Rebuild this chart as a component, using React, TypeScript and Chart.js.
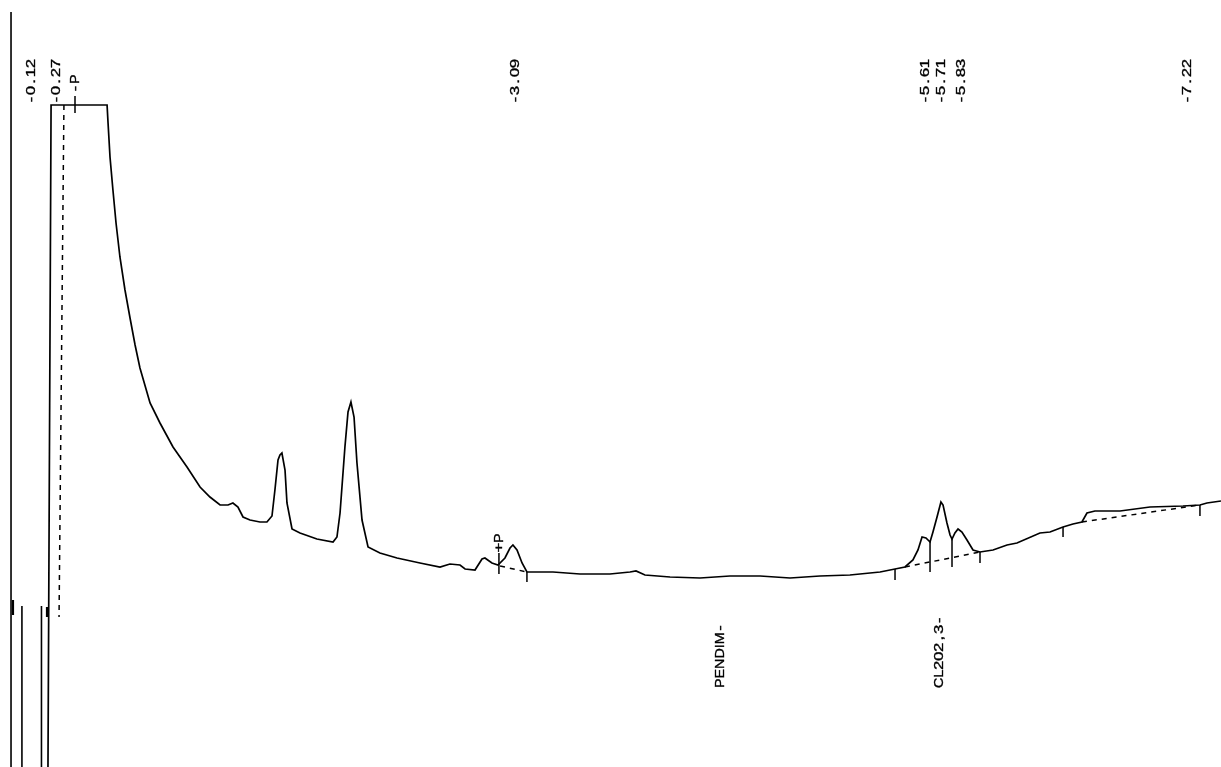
import React, { useEffect, useRef } from "react";
import { Chart, registerables } from "chart.js";

Chart.register(...registerables);

// Detector trace: retention time (min) and signal (arbitrary units)
const traceTime = [
  0.221, 0.24, 0.584, 0.59, 0.602, 0.62, 0.639, 0.663, 0.694, 0.725, 0.756, 0.786, 0.848, 0.909, 0.989,
  1.075, 1.155, 1.216, 1.278, 1.327, 1.357, 1.388, 1.419, 1.462, 1.523, 1.566, 1.597, 1.615, 1.634, 1.646,
  1.658, 1.677, 1.689, 1.72, 1.769, 1.873, 1.972, 1.996, 2.015, 2.045, 2.064, 2.082, 2.101, 2.119, 2.15,
  2.187, 2.26, 2.365, 2.506, 2.629, 2.69, 2.752, 2.783, 2.844, 2.887, 2.905, 2.948, 2.985, 3.028, 3.059,
  3.077, 3.102, 3.133, 3.163, 3.243, 3.323, 3.489, 3.673, 3.796, 3.833, 3.888, 4.042, 4.226, 4.41, 4.595,
  4.779, 4.963, 5.147, 5.332, 5.424, 5.485, 5.534, 5.565, 5.59, 5.614, 5.639, 5.657, 5.682, 5.706, 5.719,
  5.743, 5.762, 5.774, 5.792, 5.811, 5.835, 5.866, 5.903, 5.946, 6.026, 6.112, 6.173, 6.314, 6.376, 6.456,
  6.517, 6.572, 6.603, 6.652, 6.806, 6.99, 7.193, 7.297, 7.34, 7.426,
];
const traceSignal = [
  0, 66.2, 66.2, 64.4, 61.0, 57.7, 54.4, 51.0, 47.7, 44.9, 42.2, 39.9, 36.4, 34.4, 32.0,
  30.0, 28.0, 27.0, 26.2, 26.2, 26.4, 26.0, 25.0, 24.7, 24.5, 24.5, 25.1, 27.7, 30.7, 31.2,
  31.4, 29.7, 26.4, 23.8, 23.4, 22.8, 22.5, 23.0, 25.4, 32.0, 35.5, 36.5, 35.0, 30.4, 24.7,
  22.0, 21.4, 20.9, 20.4, 20.0, 20.3, 20.2, 19.8, 19.7, 20.8, 20.9, 20.4, 20.2, 20.9, 21.9,
  22.2, 21.7, 20.4, 19.5, 19.5, 19.5, 19.3, 19.3, 19.5, 19.6, 19.2, 19.0, 18.9, 19.1, 19.1,
  18.9, 19.1, 19.2, 19.5, 19.8, 20.0, 20.7, 21.7, 23.0, 22.9, 22.5, 23.5, 25.0, 26.5, 26.2,
  24.4, 23.2, 22.8, 23.4, 23.8, 23.5, 22.7, 21.7, 21.5, 21.7, 22.2, 22.4, 23.4, 23.5, 24.0,
  24.3, 24.5, 25.4, 25.6, 25.6, 26.0, 26.1, 26.2, 26.4, 26.6,
];

// Integration baselines (dashed)
const baseStartTime = [0.319, 2.998, 5.485, 6.572];
const baseStartSignal = [66.2, 20.1, 20.0, 24.5];
const baseEndTime = [0.289, 3.163, 5.946, 7.297];
const baseEndSignal = [15.0, 19.5, 21.5, 26.2];

// Peak start / end / drop marks
const markTime = [0.387, 2.991, 3.163, 5.424, 5.639, 5.774, 5.946, 6.456, 7.297];
const markTop = [67.1, 21.4, 19.5, 19.8, 22.5, 22.8, 21.5, 24.0, 26.2];
const markBottom = [65.4, 19.3, 18.5, 18.7, 19.5, 20.0, 20.4, 23.0, 25.1];

// Event lines at the start of the run
const eventTime = [-0.006, 0.006, 0.061, 0.181, 0.215];
const eventTop = [75.5, 16.7, 16.1, 16.1, 16.0];
const eventBottom = [0, 15.2, 0, 0, 15.0];

// Retention time labels
const peakTimes = [0.12, 0.27, 3.09, 5.61, 5.71, 5.83, 7.22];
const peakLabelSignal = 66.3;

// Integration event labels
const eventLabels = ["-P", "+P"];
const eventLabelTime = [0.387, 2.991];
const eventLabelSignal = [67.4, 21.5];

// Compound names
const compoundNames = ["PENDIM-", "CL202,3-"];
const compoundTimes = [4.349, 5.694];
const compoundLabelSignal = 7.9;

const X_MIN = -0.0737;
const X_MAX = 7.4263;
const Y_MIN = 0;
const Y_MAX = 76.7;

const labelPlugin = {
  id: "rtLabels",
  afterDatasetsDraw(chart: any) {
    const { ctx } = chart;
    const xs = chart.scales.x;
    const ys = chart.scales.y;
    const draw = (text: string, t: number, v: number) => {
      ctx.save();
      ctx.translate(xs.getPixelForValue(t), ys.getPixelForValue(v));
      ctx.rotate(-Math.PI / 2);
      ctx.font = '13px "Liberation Sans", Arial, sans-serif';
      ctx.fillStyle = "#000";
      ctx.strokeStyle = "#000";
      ctx.lineWidth = 0.35;
      ctx.textAlign = "center";
      ctx.textBaseline = "middle";
      let pos = 0;
      Array.from(text).forEach((ch) => {
        const isLetter = /[A-Za-z]/.test(ch);
        const sx = isLetter ? 1.1 : 1.3;
        const adv = isLetter ? ctx.measureText(ch).width * 1.1 : 9;
        ctx.save();
        ctx.translate(pos + adv / 2, 0);
        ctx.scale(sx, 1);
        ctx.fillText(ch, 0, 0);
        ctx.strokeText(ch, 0, 0);
        ctx.restore();
        pos += adv;
      });
      ctx.restore();
    };
    peakTimes.forEach((t) => draw("-" + t.toFixed(2), t, peakLabelSignal));
    eventLabels.forEach((s, i) => draw(s, eventLabelTime[i], eventLabelSignal[i]));
    compoundNames.forEach((s, i) => draw(s, compoundTimes[i], compoundLabelSignal));
  },
};

export default function App() {
  const ref = useRef<HTMLCanvasElement | null>(null);

  useEffect(() => {
    if (!ref.current) return;
    const datasets: any[] = [];
    datasets.push({
      data: traceTime.map((t, i) => ({ x: t, y: traceSignal[i] })),
      showLine: true,
      borderColor: "#000",
      borderWidth: 1.7,
      pointRadius: 0,
      clip: false,
    });
    baseStartTime.forEach((t, i) => {
      datasets.push({
        data: [
          { x: t, y: baseStartSignal[i] },
          { x: baseEndTime[i], y: baseEndSignal[i] },
        ],
        showLine: true,
        borderColor: "#000",
        borderWidth: 1.5,
        borderDash: [5, 5],
        pointRadius: 0,
        clip: false,
      });
    });
    markTime.forEach((t, i) => {
      datasets.push({
        data: [
          { x: t, y: markTop[i] },
          { x: t, y: markBottom[i] },
        ],
        showLine: true,
        borderColor: "#000",
        borderWidth: 1.5,
        pointRadius: 0,
        clip: false,
      });
    });
    eventTime.forEach((t, i) => {
      datasets.push({
        data: [
          { x: t, y: eventTop[i] },
          { x: t, y: eventBottom[i] },
        ],
        showLine: true,
        borderColor: "#000",
        borderWidth: eventBottom[i] > 0 ? 2.2 : 1.6,
        pointRadius: 0,
        clip: false,
      });
    });

    const chart = new Chart(ref.current, {
      type: "scatter",
      data: { datasets },
      options: {
        animation: false,
        responsive: false,
        devicePixelRatio: 1,
        layout: { padding: 0 },
        plugins: { legend: { display: false }, tooltip: { enabled: false } },
        scales: {
          x: { type: "linear", min: X_MIN, max: X_MAX, display: false },
          y: { type: "linear", min: Y_MIN, max: Y_MAX, display: false },
        },
      },
      plugins: [labelPlugin],
    } as any);
    return () => chart.destroy();
  }, []);

  return (
    <div style={{ position: "absolute", left: 0, top: 0, width: 1221, height: 767, background: "#fff" }}>
      <canvas ref={ref} width={1221} height={767} style={{ display: "block", width: 1221, height: 767 }} />
    </div>
  );
}
